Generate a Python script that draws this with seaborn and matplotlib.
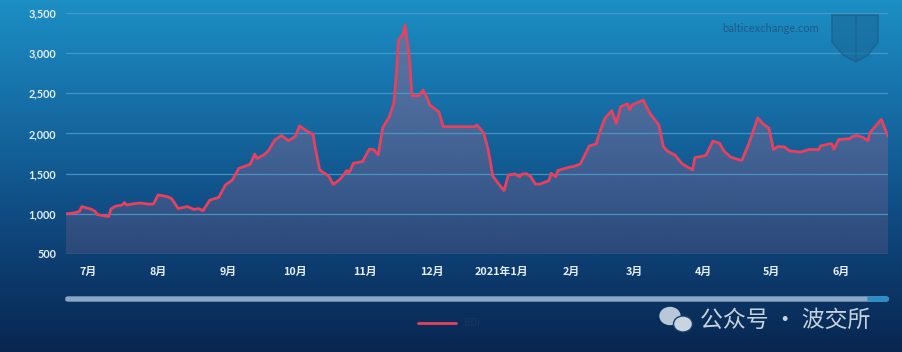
import numpy as np
import pandas as pd
import matplotlib
matplotlib.use("Agg")
import matplotlib.pyplot as plt
import matplotlib.dates as mdates
from matplotlib.colors import LinearSegmentedColormap, to_rgb
from matplotlib.patches import Ellipse, Polygon, FancyBboxPatch
import seaborn as sns

# === DATOS ===
dates = [
    "2020-06-21", "2020-06-23", "2020-06-25", "2020-06-27", "2020-06-28", "2020-06-30",
    "2020-07-02", "2020-07-04", "2020-07-05", "2020-07-08", "2020-07-10", "2020-07-11",
    "2020-07-13", "2020-07-16", "2020-07-17", "2020-07-18", "2020-07-21", "2020-07-24",
    "2020-07-28", "2020-07-30", "2020-08-01", "2020-08-05", "2020-08-07", "2020-08-10",
    "2020-08-14", "2020-08-17", "2020-08-19", "2020-08-21", "2020-08-24", "2020-08-28",
    "2020-08-31", "2020-09-03", "2020-09-06", "2020-09-09", "2020-09-11", "2020-09-13",
    "2020-09-14", "2020-09-17", "2020-09-19", "2020-09-22", "2020-09-25", "2020-09-28",
    "2020-10-01", "2020-10-03", "2020-10-06", "2020-10-09", "2020-10-10", "2020-10-12",
    "2020-10-16", "2020-10-18", "2020-10-21", "2020-10-23", "2020-10-24", "2020-10-25",
    "2020-10-27", "2020-10-31", "2020-11-03", "2020-11-05", "2020-11-07", "2020-11-09",
    "2020-11-12", "2020-11-14", "2020-11-15", "2020-11-16", "2020-11-18", "2020-11-19",
    "2020-11-21", "2020-11-22", "2020-11-25", "2020-11-27", "2020-11-29", "2020-11-30",
    "2020-12-04", "2020-12-06", "2020-12-09", "2020-12-14", "2020-12-20", "2020-12-21",
    "2020-12-24", "2020-12-26", "2020-12-27", "2020-12-28", "2020-12-31", "2021-01-02",
    "2021-01-04", "2021-01-07", "2021-01-09", "2021-01-10", "2021-01-12", "2021-01-14",
    "2021-01-16", "2021-01-18", "2021-01-22", "2021-01-23", "2021-01-25", "2021-01-26",
    "2021-01-31", "2021-02-02", "2021-02-05", "2021-02-09", "2021-02-12", "2021-02-14",
    "2021-02-16", "2021-02-19", "2021-02-21", "2021-02-23", "2021-02-26", "2021-02-27",
    "2021-02-28", "2021-03-05", "2021-03-08", "2021-03-12", "2021-03-14", "2021-03-16",
    "2021-03-19", "2021-03-22", "2021-03-23", "2021-03-27", "2021-03-28", "2021-04-01",
    "2021-04-02", "2021-04-05", "2021-04-08", "2021-04-10", "2021-04-13", "2021-04-17",
    "2021-04-18", "2021-04-21", "2021-04-25", "2021-04-27", "2021-04-30", "2021-05-02",
    "2021-05-04", "2021-05-07", "2021-05-09", "2021-05-14", "2021-05-18", "2021-05-22",
    "2021-05-23", "2021-05-27", "2021-05-28", "2021-05-29", "2021-05-31", "2021-06-05",
    "2021-06-06", "2021-06-08", "2021-06-11", "2021-06-13", "2021-06-14", "2021-06-19",
    "2021-06-21", "2021-06-22",
]
bdi = [
    1000, 1005, 1015, 1030, 1090, 1075,
    1060, 1030, 990, 975, 968, 1060,
    1095, 1110, 1140, 1110, 1125, 1135,
    1120, 1125, 1235, 1215, 1190, 1065,
    1090, 1055, 1065, 1040, 1170, 1205,
    1360, 1420, 1567, 1595, 1615, 1745,
    1690, 1732, 1780, 1920, 1975, 1910,
    1960, 2095, 2035, 1990, 1820, 1545,
    1470, 1365, 1430, 1500, 1540, 1510,
    1630, 1650, 1805, 1800, 1735, 2070,
    2210, 2380, 2710, 3165, 3230, 3350,
    2920, 2470, 2470, 2540, 2425, 2355,
    2270, 2085, 2085, 2085, 2085, 2105,
    2005, 1795, 1640, 1470, 1360, 1290,
    1485, 1495, 1460, 1495, 1500, 1460,
    1370, 1370, 1413, 1505, 1460, 1540,
    1580, 1590, 1620, 1845, 1870, 2045,
    2190, 2285, 2125, 2335, 2370, 2295,
    2355, 2415, 2250, 2105, 1835, 1775,
    1735, 1635, 1610, 1548, 1700, 1720,
    1730, 1905, 1880, 1780, 1705, 1670,
    1670, 1870, 2195, 2130, 2065, 1800,
    1838, 1832, 1785, 1768, 1802, 1798,
    1845, 1872, 1870, 1805, 1925, 1935,
    1962, 1975, 1950, 1910, 2012, 2175,
    2035, 1965,
]
month_ticks = ["2020-07-01", "2020-08-01", "2020-09-01", "2020-10-01", "2020-11-01",
               "2020-12-01", "2021-01-01", "2021-02-01", "2021-03-01", "2021-04-01",
               "2021-05-01", "2021-06-01"]
month_labels = ["7月", "8月", "9月", "10月", "11月", "12月", "2021年1月",
                "2月", "3月", "4月", "5月", "6月"]
y_ticks = [500, 1000, 1500, 2000, 2500, 3000, 3500]

df = pd.DataFrame({"date": pd.to_datetime(dates), "BDI": bdi})

# === ESTILO ===
sns.set_theme(style="white")
plt.rcParams["font.family"] = ["Noto Sans CJK SC", "DejaVu Sans"]

W, H = 903, 352
fig = plt.figure(figsize=(W / 100, H / 100), dpi=100)

# === FONDO DEGRADADO ===
bg = fig.add_axes([0, 0, 1, 1], zorder=0)
bg_cmap = LinearSegmentedColormap.from_list(
    "bg", [(0.0, "#1c8fc4"), (0.3, "#166ea6"), (0.55, "#11528a"),
           (0.75, "#0d3d70"), (1.0, "#082650")])
bg.imshow(np.linspace(0, 1, 256).reshape(-1, 1), aspect="auto", cmap=bg_cmap,
          extent=[0, 1, 0, 1], origin="upper")
bg.set_xlim(0, 1)
bg.set_ylim(0, 1)
bg.axis("off")

# === EJE PRINCIPAL ===
ax = fig.add_axes([66 / W, 1 - 254 / H, (888 - 66) / W, (254 - 13) / H], zorder=1)
ax.patch.set_alpha(0)

sns.lineplot(data=df, x="date", y="BDI", ax=ax, color="#e8405f",
             linewidth=2.0, label="BDI", zorder=4)

x0 = pd.Timestamp("2020-06-21")
x1 = pd.Timestamp("2021-06-22")

# relleno con degradado bajo la línea
poly = ax.fill_between(df["date"], df["BDI"], 500, color="none", linewidth=0)
fill_rgba = np.zeros((256, 1, 4))
fill_rgba[..., :3] = to_rgb("#92688e")
fill_rgba[..., 3] = np.linspace(0.58, 0.22, 256).reshape(-1, 1)
im = ax.imshow(fill_rgba, aspect="auto", origin="upper", zorder=2,
               extent=[mdates.date2num(x0), mdates.date2num(x1), 500, 3500])
im.set_clip_path(poly.get_paths()[0], transform=ax.transData)

ax.set_xlim(x0, x1)
ax.set_ylim(500, 3500)
ax.set_yticks(y_ticks)
ax.set_yticklabels([f"{v:,}" for v in y_ticks])
ax.set_xticks(pd.to_datetime(month_ticks))
ax.set_xticklabels(month_labels)
ax.set_xlabel("")
ax.set_ylabel("")
ax.set_axisbelow(False)
ax.grid(axis="y", color="#4d9ccb", linewidth=0.9, alpha=0.85)
ax.grid(axis="x", visible=False)
for s in ax.spines.values():
    s.set_visible(False)
ax.tick_params(axis="y", length=0, pad=7, labelcolor="#e4eef7")
ax.tick_params(axis="x", length=0, pad=9, labelcolor="#e8eef5")
for lab in ax.get_yticklabels():
    lab.set_family(["Lato", "DejaVu Sans"])
    lab.set_fontweight("bold")
    lab.set_fontsize(7.8)
for lab in ax.get_xticklabels():
    lab.set_fontweight("bold")
    lab.set_fontsize(7.8)

# === LEYENDA ===
leg = ax.legend(loc="center", bbox_to_anchor=(0.497, 1 - 323 / H),
                bbox_transform=fig.transFigure, frameon=False,
                handlelength=3.9, fontsize=7, labelcolor="#1b3764")

# === BARRA DE DESPLAZAMIENTO ===
fig.patches.append(FancyBboxPatch((66 / W, 1 - 301 / H), (888 - 66) / W, 4 / H,
                                  boxstyle="round,pad=0,rounding_size=0.003",
                                  transform=fig.transFigure, color="#8ba8c6",
                                  zorder=3))
fig.patches.append(FancyBboxPatch((868 / W, 1 - 301 / H), 20 / W, 4 / H,
                                  boxstyle="round,pad=0,rounding_size=0.003",
                                  transform=fig.transFigure, color="#2b8fc5",
                                  zorder=3))

# === MARCAS DE AGUA ===
fig.text(771 / W, 1 - 29 / H, "balticexchange.com", ha="center", va="center",
         fontsize=8, color="#1e5c8a", family=["Lato", "DejaVu Sans"])
shield = [(832, 15), (878, 15), (878, 42), (868, 55), (856, 62), (843, 55), (832, 42)]
fig.patches.append(Polygon([(x / W, 1 - y / H) for x, y in shield], closed=True,
                           transform=fig.transFigure, facecolor="#1a6c9c",
                           edgecolor="#1b5f8c", linewidth=1.2, alpha=0.7,
                           zorder=2))
fig.lines.append(plt.Line2D([856 / W, 856 / W], [1 - 17 / H, 1 - 60 / H],
                            transform=fig.transFigure, color="#1b5f8c", lw=1.2))

fig.patches.append(Ellipse((670 / W, 1 - 316 / H), 20 / W, 17 / H,
                           transform=fig.transFigure, color="#b9c8d8", zorder=3))
fig.patches.append(Ellipse((683 / W, 1 - 324 / H), 19 / W, 16 / H,
                           transform=fig.transFigure, color="#c8d4e0", zorder=3,
                           ec="#173f6a", lw=1))
fig.text(700 / W, 1 - 320 / H, "公众号 · 波交所", ha="left", va="center",
         fontsize=16.5, color="#c6d2de", family=["Noto Sans CJK SC", "DejaVu Sans"])

fig.savefig("out.png", dpi=100)
